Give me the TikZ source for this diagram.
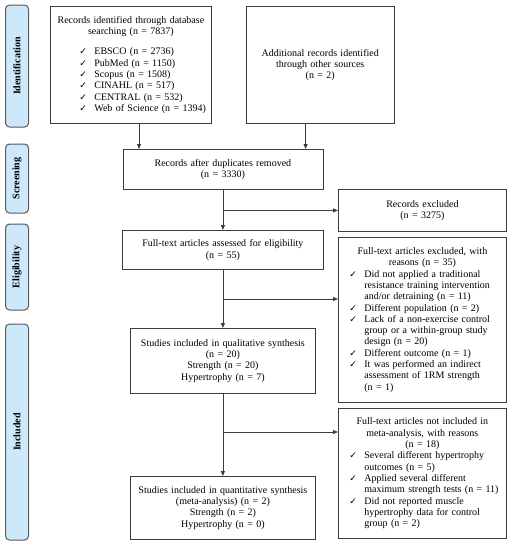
\documentclass[tikz,border=0pt]{standalone}
\usepackage{fontspec}
\setmainfont{Liberation Serif}
\newfontfamily\djv{DejaVu Sans}
\usetikzlibrary{arrows.meta}
\definecolor{sidefill}{HTML}{CCE8FA}
\definecolor{linecol}{HTML}{3C3C3C}
\newcommand\ckm{{\djv\fontsize{9}{9}\selectfont ✓}}
\newcommand\ckitem[2]{{\let\\\newline\leftskip=#1\hangindent=15pt\hangafter=1\noindent\makebox[15pt][l]{\ckm}#2\par}}
\begin{document}
\begin{tikzpicture}[x=1pt,y=-1pt,
  box/.style={draw=linecol, line width=0.8pt, inner xsep=0pt, inner ysep=0pt, anchor=north west, font=\fontsize{10}{11.3}\selectfont},
  side/.style={draw=black!65, line width=1pt, fill=sidefill, rounded corners=4pt, rotate=90, minimum height=23pt, inner sep=0pt, font=\fontsize{10}{12}\selectfont\bfseries},
  arr/.style={draw=linecol, line width=0.8pt, -{Triangle[length=5pt,width=4pt]}}]
\useasboundingbox (0,0) rectangle (513,550);
% side labels
\node[side, minimum width=122pt] (sId) at (17,66) {Identification};
\node[side, minimum width=69pt] (sSc) at (17,178.5) {Screening};
\node[side, minimum width=86pt] (sEl) at (17,267) {Eligibility};
\node[side, minimum width=216pt] (sIn) at (17,432) {Included};
% boxes
\node[box, text width=161pt, minimum height=117pt] (b1) at (50,6) {\centering Records identified through database\\ searching (n = 7837)\par\vspace{9pt}\raggedright
\ckitem{29pt}{EBSCO (n = 2736)}
\ckitem{29pt}{PubMed (n = 1150)}
\ckitem{29pt}{Scopus (n = 1508)}
\ckitem{29pt}{CINAHL (n = 517)}
\ckitem{29pt}{CENTRAL (n = 532)}
\ckitem{29pt}{Web of Science (n = 1394)}};
\node[box, text width=148.4pt, minimum height=117pt] (b2) at (245.6,6) {\centering Additional records identified\\ through other sources\\ (n = 2)\par};
\node[box, text width=200pt, minimum height=40pt] (b3) at (122.5,149) {\centering Records after duplicates removed\\ (n = 3330)\par};
\node[box, text width=168pt, minimum height=42pt] (b4) at (338,189) {\centering Records excluded\\ (n = 3275)\par};
\node[box, text width=201pt, minimum height=39pt] (b5) at (122,230) {\centering Full-text articles assessed for eligibility\\ (n = 55)\par};
\node[box, text width=168pt, minimum height=165pt] (b6) at (338,237) {\centering Full-text articles excluded, with\\ reasons (n = 35)\par\raggedright
\ckitem{11pt}{Did not applied a traditional\\ resistance training intervention\\ and/or detraining (n = 11)}
\ckitem{11pt}{Different population (n = 2)}
\ckitem{11pt}{Lack of a non-exercise control\\ group or a within-group study\\ design (n = 20)}
\ckitem{11pt}{Different outcome (n = 1)}
\ckitem{11pt}{It was performed an indirect\\ assessment of 1RM strength\\ (n = 1)}\vspace{6pt}};
\node[box, text width=185pt, minimum height=65pt] (b7) at (130,328) {\centering Studies included in qualitative synthesis\\ (n = 20)\\ Strength (n = 20)\\ Hypertrophy (n = 7)\par};
\node[box, text width=168pt, minimum height=130pt] (b8) at (338,408) {\centering Full-text articles not included in\\ meta-analysis, with reasons\\ (n = 18)\par\raggedright
\ckitem{11pt}{Several different hypertrophy\\ outcomes (n = 5)}
\ckitem{11pt}{Applied several different\\ maximum strength tests (n = 11)}
\ckitem{11pt}{Did not reported muscle\\ hypertrophy data for control\\ group (n = 2)}};
\node[box, text width=185pt, minimum height=63pt] (b9) at (130,476) {\centering Studies included in quantitative synthesis\\ (meta-analysis) (n = 2)\\ Strength (n = 2)\\ Hypertrophy (n = 0)\par};
% connectors
\coordinate (a1) at ([xshift=89pt]b1.south west);
\coordinate (a2) at ([xshift=60pt]b2.south west);
\draw[arr] (a1) -- (a1 |- b3.north);
\draw[arr] (a2) -- (a2 |- b3.north);
\draw[arr] (b3.south) -- (b5.north);
\draw[arr] (b3.south |- b4.west) -- (b4.west);
\draw[arr] (b5.south) -- (b7.north);
\coordinate (j2) at (222.5,299);
\draw[arr] (j2) -- (j2 -| b6.west);
\draw[arr] (b7.south) -- (b9.north);
\coordinate (j3) at (222.5,432);
\draw[arr] (j3) -- (j3 -| b8.west);
\end{tikzpicture}
\end{document}
